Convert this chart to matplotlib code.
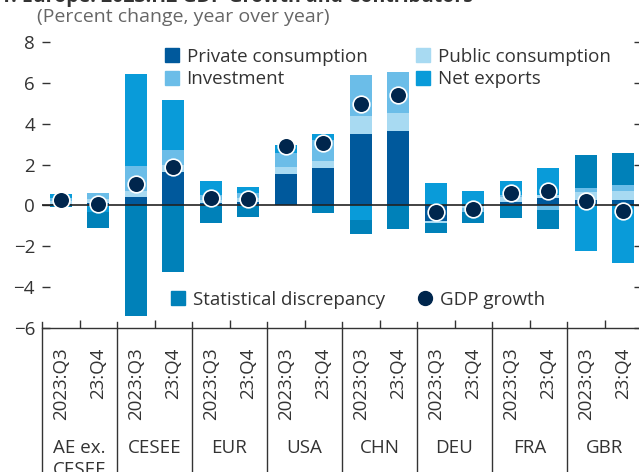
import matplotlib.pyplot as plt
from matplotlib.lines import Line2D
import numpy as np

plt.rcParams['font.family'] = ['Open Sans', 'DejaVu Sans']
plt.rcParams['font.size'] = 13.5

# ---- data ----
groups = ["AE ex.\nCESEE", "CESEE", "EUR", "USA", "CHN", "DEU", "FRA", "GBR"]
quarters = ["2023:Q3", "23:Q4"] * 8

private = [0.05, 0.10, 0.40, 1.65, 0.10, 0.18, 1.52, 1.81,
           3.48, 3.64, -0.75, -0.05, 0.15, 0.38, 0.26, 0.26]
public = [0.15, 0.20, 0.33, 0.35, 0.15, 0.20, 0.38, 0.36,
          0.88, 0.87, -0.12, -0.10, 0.28, 0.12, 0.41, 0.44]
investment = [0.15, 0.30, 1.20, 0.70, 0.25, 0.24, 0.65, 1.03,
              2.03, 2.01, 0.00, -0.15, 0.07, -0.20, 0.16, 0.30]
net_exports = [0.20, -0.30, 4.50, 2.45, 0.72, 0.26, 0.39, 0.28,
               -0.69, 0.00, 1.08, 0.70, 0.72, 1.31, -2.24, -2.81]
stat_disc = [-0.08, -0.80, -5.43, -3.28, -0.88, -0.57, 0.00, -0.39,
             -0.72, -1.16, -0.48, -0.55, -0.62, -0.93, 1.62, 1.55]
gdp_growth = [0.25, 0.05, 1.03, 1.90, 0.38, 0.30, 2.93, 3.07,
              4.95, 5.41, -0.31, -0.18, 0.60, 0.72, 0.21, -0.25]

C_PRIV = "#00599C"
C_PUB = "#A8DAF2"
C_INV = "#6BBDE8"
C_NX = "#099BD9"
C_SD = "#0081B9"
C_GDP = "#00264D"
TXT = "#333333"

fig = plt.figure(figsize=(6.39, 4.72), dpi=100)
ax = fig.add_axes([42 / 639, 1 - 328 / 472, 600 / 639, 286 / 472])

x = np.arange(len(quarters))
width = 0.59
components = [
    (private, C_PRIV),
    (public, C_PUB),
    (investment, C_INV),
    (net_exports, C_NX),
    (stat_disc, C_SD),
]
pos_base = np.zeros(len(x))
neg_base = np.zeros(len(x))
for vals, color in components:
    vals = np.array(vals)
    pos = np.where(vals > 0, vals, 0)
    neg = np.where(vals < 0, vals, 0)
    ax.bar(x, pos, width, bottom=pos_base, color=color, lw=0, zorder=2)
    ax.bar(x, neg, width, bottom=neg_base, color=color, lw=0, zorder=2)
    pos_base += pos
    neg_base += neg

ax.axhline(0, color="#222222", lw=1.2, zorder=3)
ax.plot(x, gdp_growth, "o", ls="none", ms=12, mfc=C_GDP, mec="white",
        mew=1.2, zorder=4)

ax.set_xlim(-0.5, 15.5)
ax.set_ylim(-6, 8)
for s in ["left", "right", "top"]:
    ax.spines[s].set_visible(False)
ax.spines["bottom"].set_color(TXT)
ax.spines["bottom"].set_linewidth(1.0)

ax.set_yticks(range(-6, 9, 2))
ax.tick_params(axis="y", direction="in", length=6, width=1, left=True,
               right=True, labelleft=True, labelright=False, pad=5,
               colors=TXT, labelcolor=TXT)

ax.set_xticks(x)
ax.set_xticklabels(quarters, rotation=90, color=TXT)
ax.tick_params(axis="x", which="major", length=0, pad=14)
ax.set_xticks(np.arange(0.5, 16, 2), minor=True)
ax.tick_params(axis="x", which="minor", direction="in", length=6,
               width=1, color=TXT)

# group separators below the axis
xt = ax.get_xaxis_transform()
for b in np.arange(-0.5, 15, 2):
    ax.plot([b, b], [6 / 286, -150 / 286], transform=xt, color=TXT,
            lw=1, clip_on=False)
for i, g in enumerate(groups):
    ax.text(2 * i + 0.5, -(439 - 328) / 286, g, transform=xt, ha="center",
            va="top", color=TXT, linespacing=1.3)

# legends
h1 = [
    Line2D([], [], marker="s", ls="none", ms=10, color=C_PRIV),
    Line2D([], [], marker="s", ls="none", ms=10, color=C_INV),
    Line2D([], [], marker="s", ls="none", ms=10, color=C_PUB),
    Line2D([], [], marker="s", ls="none", ms=10, color=C_NX),
]
l1 = ["Private consumption", "Investment", "Public consumption", "Net exports"]
leg1 = ax.legend(h1, l1, ncol=2, loc="upper left",
                 bbox_to_anchor=(165 / 639, 1 - 48 / 472),
                 bbox_transform=fig.transFigure, frameon=False, borderpad=0,
                 borderaxespad=0, handlelength=0.7, handletextpad=0.45,
                 columnspacing=2.6, labelspacing=0.22, labelcolor=TXT)
ax.add_artist(leg1)

h2 = [
    Line2D([], [], marker="s", ls="none", ms=10, color=C_SD),
    Line2D([], [], marker="o", ls="none", ms=10, color=C_GDP),
]
l2 = ["Statistical discrepancy", "GDP growth"]
ax.legend(h2, l2, ncol=2, loc="upper left",
          bbox_to_anchor=(171 / 639, 1 - 291 / 472),
          bbox_transform=fig.transFigure, frameon=False, borderpad=0,
          borderaxespad=0, handlelength=0.7, handletextpad=0.45,
          columnspacing=1.8, labelcolor=TXT)

fig.text(0.0, 1 - 2 / 472, "1. Europe: 2023:H2 GDP Growth and Contributors",
         fontsize=14, fontweight="bold", color=TXT, va="baseline")
fig.text(37 / 639, 1 - 17 / 472, "(Percent change, year over year)",
         color="#666666", va="center", fontsize=14)

fig.savefig("out.png", dpi=100)
